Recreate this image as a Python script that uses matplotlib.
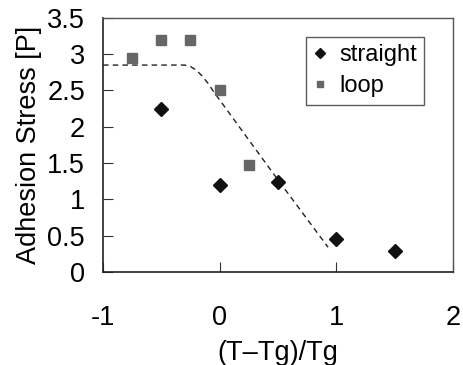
import matplotlib.pyplot as plt

plt.rcParams['font.family'] = ['Liberation Sans', 'DejaVu Sans']

# straight series
straight_x = [-0.5, 0.0, 0.5, 1.0, 1.5]
straight_y = [2.25, 1.2, 1.24, 0.45, 0.29]

# loop series
loop_x = [-0.75, -0.5, -0.25, 0.0, 0.25]
loop_y = [2.95, 3.19, 3.19, 2.5, 1.47]

# dashed guide line
fit_x = [-1.0, -0.3, -0.25, -0.2, -0.15, -0.1, -0.05, 0.49, 0.93]
fit_y = [2.85, 2.85, 2.83, 2.78, 2.7, 2.6, 2.48, 1.29, 0.34]

x_ticks = [-1, 0, 1, 2]
y_ticks = [0, 0.5, 1, 1.5, 2, 2.5, 3, 3.5]
y_tick_labels = ['0', '0.5', '1', '1.5', '2', '2.5', '3', '3.5']

fig = plt.figure(figsize=(4.64, 3.65), dpi=100)
ax = fig.add_axes([0.222, 0.255, 0.754, 0.696])

ax.plot(fit_x, fit_y, color='#222222', linestyle=(0, (4, 3)), linewidth=1.0)
ax.plot(straight_x, straight_y, 'D', color='#111111', markersize=7, linestyle='none', label='straight')
ax.plot(loop_x, loop_y, 's', color='#666666', markersize=6.5, linestyle='none', label='loop')

ax.set_xlim(-1, 2)
ax.set_ylim(0, 3.5)
ax.set_xticks(x_ticks)
ax.set_xticklabels([str(t) for t in x_ticks])
ax.set_yticks(y_ticks)
ax.set_yticklabels(y_tick_labels)
ax.tick_params(axis='x', direction='in', length=7, pad=24, labelsize=19.5, color='#333333')
ax.tick_params(axis='y', direction='in', length=7, pad=13, labelsize=19.5, color='#333333')

for side in ['left', 'bottom']:
    ax.spines[side].set_color('#222222')
    ax.spines[side].set_linewidth(1.2)
for side in ['top', 'right']:
    ax.spines[side].set_color('#555555')
    ax.spines[side].set_linewidth(1.0)

ax.set_xlabel('(T\u2013Tg)/Tg', fontsize=19.5, labelpad=6)
ax.set_ylabel('Adhesion Stress [P]', fontsize=19.5, labelpad=4)

leg = ax.legend(loc='upper right', bbox_to_anchor=(0.917, 0.925), fontsize=17,
                frameon=True, fancybox=False, edgecolor='#333333',
                handlelength=0.6, handletextpad=0.5, borderpad=0.3,
                labelspacing=0.4, markerscale=0.7, borderaxespad=0)
leg.get_frame().set_linewidth(1.0)

fig.savefig('out.png', dpi=100)
